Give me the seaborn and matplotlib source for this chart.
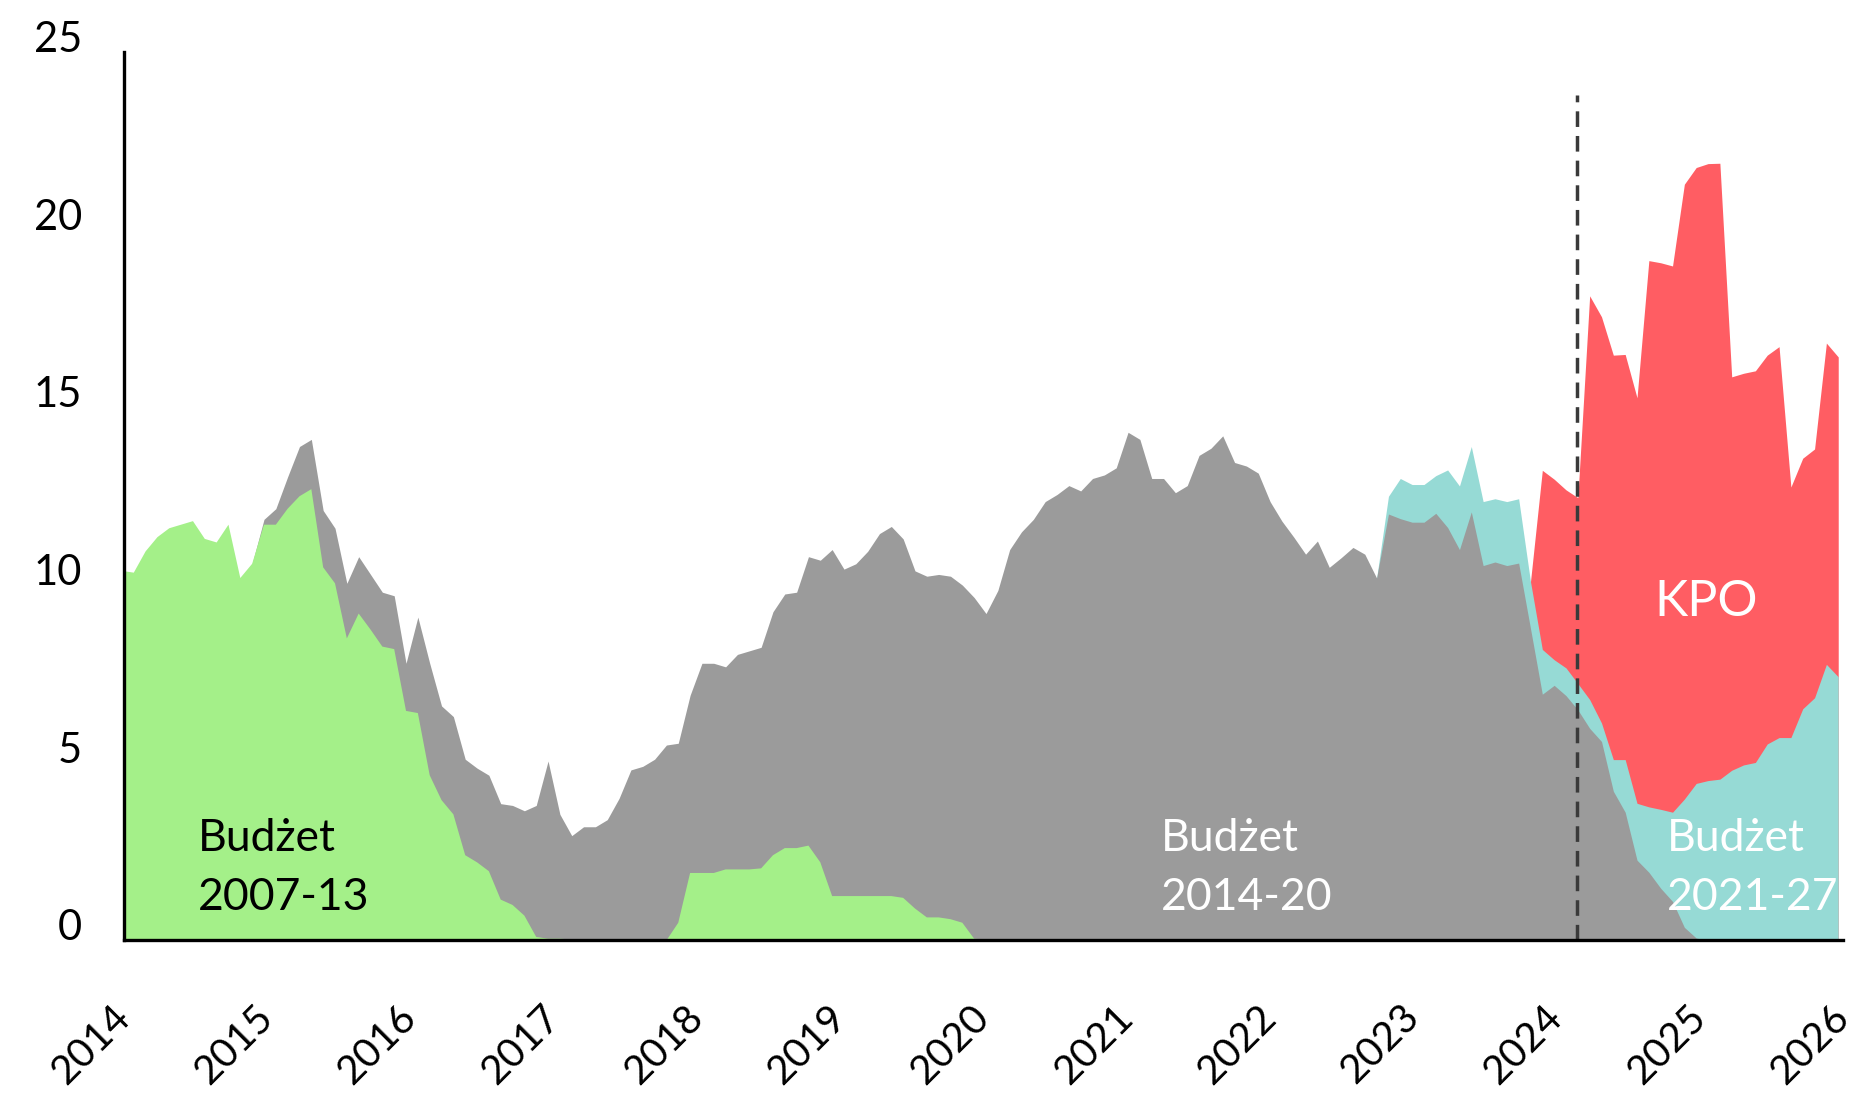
# Fundusze UE - warstwowy wykres powierzchniowy (Budżet 2007-13 / 2014-20 / 2021-27 / KPO)
import numpy as np
import pandas as pd
import matplotlib
matplotlib.use('Agg')
import matplotlib.pyplot as plt
import seaborn as sns

# dane miesięczne, od grudnia 2013 do grudnia 2025
green = [10.4, 10.35, 10.95, 11.35, 11.6, 11.7, 11.8, 11.3, 11.2, 11.7,
         10.2, 10.6, 11.7, 11.7, 12.15, 12.5, 12.7, 10.5, 10.05, 8.5,
         9.2, 8.75, 8.27, 8.2, 6.46, 6.4, 4.65, 3.95, 3.55, 2.4,
         2.2, 1.95, 1.15, 1.0, 0.7, 0.1, 0.05, 0.05, 0.03,
         0, 0, 0, 0, 0, 0, 0, 0,
         0.5, 1.9, 1.9, 1.9, 2.0, 2.0, 2.0, 2.03, 2.4, 2.6, 2.6, 2.67, 2.2,
         1.25, 1.25, 1.25, 1.25, 1.25, 1.25, 1.2, 0.9, 0.65, 0.65, 0.6, 0.5, 0.05, 0.03] + [0.0] * 72

gray = [0.0] * 12 + [
    0.15, 0.45, 0.9, 1.4, 1.4, 1.6, 1.55, 1.55, 1.6, 1.55,
    1.53, 1.5, 1.34, 2.7, 3.15, 2.65, 2.75, 2.7, 2.65, 2.7,
    2.7, 2.8, 2.95, 3.7, 5.0, 3.5, 2.92, 3.2, 3.2, 3.4,
    4.0, 4.8, 4.9, 5.1, 5.5, 5.05, 5.0, 5.9, 5.9, 5.7,
    6.05, 6.15, 6.22, 6.85, 7.15, 7.2, 8.13, 8.5, 9.75, 9.2,
    9.35, 9.7, 10.2, 10.4, 10.1, 9.5, 9.6, 9.65, 9.65, 9.5,
    9.6, 9.17, 9.85, 11.0, 11.5, 11.85, 12.35, 12.55, 12.8, 12.65,
    13.0, 13.1, 13.3, 14.3, 14.1, 13.0, 13.0, 12.6, 12.8, 13.65,
    13.85, 14.2, 13.45, 13.35, 13.15, 12.35, 11.8, 11.35, 10.87, 11.24,
    10.5, 10.77, 11.06, 10.87, 10.2, 12.0, 11.87, 11.77, 11.77, 12.02,
    11.62, 11.0, 12.06, 10.55, 10.65, 10.55, 10.62, 8.78, 6.93, 7.18,
    6.89, 6.49, 5.97, 5.6, 4.2, 3.61, 2.26, 1.92, 1.47, 1.1,
    0.37, 0.07] + [0.0] * 12

teal = [0.0] * 106 + [
    0, 0.5, 1.13, 1.06, 1.06, 1.06, 1.62, 1.79, 1.84, 1.8,
    1.78, 1.8, 1.81, 1.32, 1.26, 0.72, 0.78, 0.74, 0.81, 0.52,
    0.89, 1.48, 1.6, 1.84, 2.22, 2.51, 3.61, 4.35, 4.5, 4.54,
    4.79, 4.94, 5.01, 5.53, 5.71, 5.71, 6.52, 6.83, 7.77, 7.42]

kpo = [0.0] * 120 + [
    5.04, 5.08, 5.01, 5.23, 11.36, 11.43, 11.38, 11.4, 11.41,
    15.37, 15.38, 15.37, 17.3, 17.33, 17.36, 17.33,
    11.07, 11.02, 11.02, 10.94, 11.0, 7.05, 7.05, 7.0, 9.04, 9.0]

years = list(range(2014, 2027))
cutoff = pd.Timestamp('2024-02-23')

dates = pd.date_range('2013-12-27', '2025-12-20', periods=len(green))
layers = [np.array(green), np.array(gray), np.array(teal), np.array(kpo)]
colors = ['#A4F089', '#9B9B9B', '#96DAD5', '#FF5D63']
tops = np.cumsum(layers, axis=0)

# styl
sns.set_theme(style='white')
plt.rcParams['font.family'] = ['Lato', 'DejaVu Sans']

fig = plt.figure(figsize=(18.55, 10.95), dpi=100)
ax = fig.add_axes([0.0668, 0.1411, 0.9267, 0.8114])


def nonzero(v):
    m = v > 0
    return m | np.r_[m[1:], False] | np.r_[False, m[:-1]]


# warstwy rysowane od góry, każda od zera (bez szwów)
for i in reversed(range(len(layers))):
    ax.fill_between(dates, 0, tops[i], where=nonzero(layers[i]),
                    color=colors[i], lw=0, zorder=1 + (3 - i) * 0.1)

ax.axvline(cutoff, ymin=0, ymax=23.8 / 25, color='#3a3a3a', lw=2.5,
           dashes=(4.5, 2.6), zorder=5)

# podpisy serii
lab_kw = dict(fontsize=32, va='baseline', ha='left', linespacing=1.55, zorder=6)
ax.text(pd.Timestamp('2014-07-08'), 0.85, 'Budżet\n2007-13', color='black', **lab_kw)
ax.text(pd.Timestamp('2021-03-29'), 0.85, 'Budżet\n2014-20', color='white', **lab_kw)
ax.text(pd.Timestamp('2024-10-08'), 0.85, 'Budżet\n2021-27', color='white', **lab_kw)
ax.text(pd.Timestamp('2025-01-16'), 9.14, 'KPO', color='white',
        fontsize=36, va='baseline', ha='center', zorder=6)

# osie
ax.set_xlim(pd.Timestamp('2014-01-01'), pd.Timestamp('2026-01-01'))
ax.set_ylim(0, 25)
ax.set_xticks(pd.to_datetime([f'{y}-01-01' for y in years]))
ax.set_xticklabels([str(y) for y in years])
ax.set_yticks([0, 5, 10, 15, 20, 25])
ax.set_yticklabels(['0', '5', '10', '15', '20', '25'])
ax.tick_params(axis='x', length=0, pad=51, labelsize=29, colors='black')
ax.tick_params(axis='y', length=0, pad=30, labelsize=30, colors='black')
for lab in ax.get_xticklabels():
    lab.set_rotation(45)
    lab.set_ha('right')
    lab.set_va('center')
    lab.set_rotation_mode('anchor')
for lab in ax.get_yticklabels():
    lab.set_va('baseline')

sns.despine(ax=ax)
for s in ['left', 'bottom']:
    ax.spines[s].set_color('black')
    ax.spines[s].set_linewidth(2.4)
    ax.spines[s].set_zorder(6)
ax.grid(False)
ax.set_facecolor('white')

fig.savefig('out.png', dpi=100)
